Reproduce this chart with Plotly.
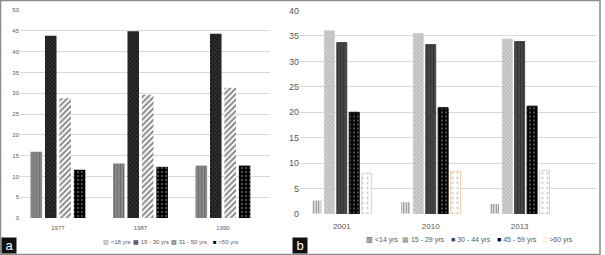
import plotly.graph_objects as go

# ---- Panel a data ----
years_a = ["1977", "1987", "1990"]
series_a = ["<18 yrs", "19 - 30 yrs", "31 - 50 yrs", ">50 yrs"]
lt18 = [15.9, 13.1, 12.6]
y19_30 = [43.8, 44.9, 44.3]
y31_50 = [28.8, 29.6, 31.3]
gt50 = [11.6, 12.3, 12.6]
ticks_a = [0, 5, 10, 15, 20, 25, 30, 35, 40, 45, 50]

# ---- Panel b data ----
years_b = ["2001", "2010", "2013"]
series_b = ["<14 yrs", "15 - 29 yrs", "30 - 44 yrs", "45 - 59 yrs", ">60 yrs"]
lt14 = [2.75, 2.4, 2.1]
y15_29 = [36.0, 35.5, 34.4]
y30_44 = [33.7, 33.3, 33.9]
y45_59 = [20.0, 20.9, 21.2]
gt60 = [8.0, 8.4, 8.6]
ticks_b = [0, 5, 10, 15, 20, 25, 30, 35, 40]

FONT = "Liberation Sans"
TXT = "#595959"

styles_a = [
    dict(color="#8a8a8a", pat=dict(shape="|", fgcolor="#555555", size=3, solidity=0.4),
         glyph="▥", gcol="#7a7a7a"),
    dict(color="#1c1c1c", pat=dict(shape="x", fgcolor="#777777", size=3, solidity=0.3),
         glyph="▩", gcol="#222222"),
    dict(color="#ffffff", pat=dict(shape="/", fgcolor="#111111", size=4, solidity=0.5),
         glyph="▨", gcol="#222222"),
    dict(color="#050505", pat=dict(shape=".", fgcolor="#bbbbbb", size=4, solidity=0.2),
         glyph="■", gcol="#050505"),
]
styles_b = [
    dict(color="#ffffff", pat=dict(shape="|", fgcolor="#000000", size=2.5, solidity=0.5),
         line="#ffffff", glyph="▥", gcol="#111111"),
    dict(color="#cfcfcf", pat=dict(shape="x", fgcolor="#777777", size=3, solidity=0.3),
         line="#cfcfcf", glyph="▩", gcol="#888888"),
    dict(color="#474747", pat=dict(shape="|", fgcolor="#222222", size=3, solidity=0.4),
         line="#474747", glyph="■", gcol="#444444"),
    dict(color="#050505", pat=dict(shape=".", fgcolor="#bbbbbb", size=4, solidity=0.2),
         line="#050505", glyph="■", gcol="#050505"),
    dict(color="#ffffff", pat=dict(shape=".", fgcolor="#777777", size=5, solidity=0.15),
         line="#f2cfaa", glyph="□", gcol="#f0c090"),
]

fig = go.Figure()
for name, vals, st in zip(series_a, [lt18, y19_30, y31_50, gt50], styles_a):
    fig.add_trace(go.Bar(
        x=years_a, y=vals, name=name, xaxis="x", yaxis="y", showlegend=False,
        marker=dict(color=st["color"], line=dict(width=0),
                    pattern=dict(fillmode="overlay", **st["pat"])),
    ))
for name, vals, st in zip(series_b, [lt14, y15_29, y30_44, y45_59, gt60], styles_b):
    fig.add_trace(go.Bar(
        x=years_b, y=vals, name=name, xaxis="x2", yaxis="y2", showlegend=False,
        marker=dict(color=st["color"], line=dict(width=1, color=st["line"]),
                    pattern=dict(fillmode="overlay", **st["pat"])),
    ))

W, H = 605, 255
def px(x): return x / W
def py(y): return (H - y) / H

def esc(s):
    return s.replace("<", "&lt;").replace(">", "&gt;")

annotations = []
# manual legend keys (glyph + text), centred on each reference item
leg_a_x = [117, 151, 189, 225]
for name, st, x in zip(series_a, styles_a, leg_a_x):
    annotations.append(dict(
        text=f'<span style="color:{st["gcol"]}">{st["glyph"]}</span> {esc(name)}',
        xref="paper", yref="paper", x=px(x), y=py(242), xanchor="center", yanchor="middle",
        showarrow=False, font=dict(size=6, color=TXT, family=FONT)))
leg_b_x = [382, 423, 471, 517, 558]
for name, st, x in zip(series_b, styles_b, leg_b_x):
    annotations.append(dict(
        text=f'<span style="color:{st["gcol"]}">{st["glyph"]}</span> {esc(name)}',
        xref="paper", yref="paper", x=px(x), y=py(240), xanchor="center", yanchor="middle",
        showarrow=False, font=dict(size=7, color=TXT, family=FONT)))
annotations += [
    dict(text=" a ", xref="paper", yref="paper", x=px(1), y=py(254), xanchor="left",
         yanchor="bottom", showarrow=False, bgcolor="#111111",
         font=dict(size=13, color="white", family=FONT), borderpad=0),
    dict(text=" b ", xref="paper", yref="paper", x=px(292), y=py(254), xanchor="left",
         yanchor="bottom", showarrow=False, bgcolor="#111111",
         font=dict(size=13, color="white", family=FONT), borderpad=0),
]

grid = "#d9d9d9"
fig.update_layout(
    width=W, height=H, margin=dict(l=0, r=0, t=0, b=0),
    paper_bgcolor="white", plot_bgcolor="white",
    font=dict(family=FONT, color=TXT),
    barmode="group", bargap=0.3, bargroupgap=0.2,
    showlegend=False,
    xaxis=dict(domain=[px(20), px(270)], anchor="y", type="category",
               range=[-0.46, 2.57], showgrid=False, showline=False, ticks="",
               ticklabelstandoff=5,
               tickfont=dict(size=6, color=TXT), automargin=False),
    yaxis=dict(domain=[py(218), py(10)], anchor="x", range=[0, 50],
               tickvals=ticks_a, showgrid=True, gridcolor=grid, gridwidth=1,
               zeroline=False, showline=False, ticks="", automargin=False,
               tickfont=dict(size=6, color=TXT)),
    xaxis2=dict(domain=[px(300), px(597)], anchor="y2", type="category",
                range=[-0.47, 2.87], showgrid=False, showline=False, ticks="",
                ticklabelstandoff=6,
                automargin=False, tickfont=dict(size=8, color=TXT)),
    yaxis2=dict(domain=[py(214), py(10.5)], anchor="x2", range=[0, 40],
                tickvals=ticks_b, showgrid=True, gridcolor=grid, gridwidth=1,
                zeroline=False, showline=False, ticks="", automargin=False,
                tickfont=dict(size=9, color=TXT)),
    shapes=[
        dict(type="rect", xref="paper", yref="paper", x0=px(0.5), x1=px(600),
             y0=py(254.5), y1=py(0.5), line=dict(color="#8c8c8c", width=1.5)),
    ],
    annotations=annotations,
)

fig.write_html(
    "out.html",
    config={"displayModeBar": False},
    post_script="document.body.style.margin='0';document.body.style.overflow='hidden';",
)
